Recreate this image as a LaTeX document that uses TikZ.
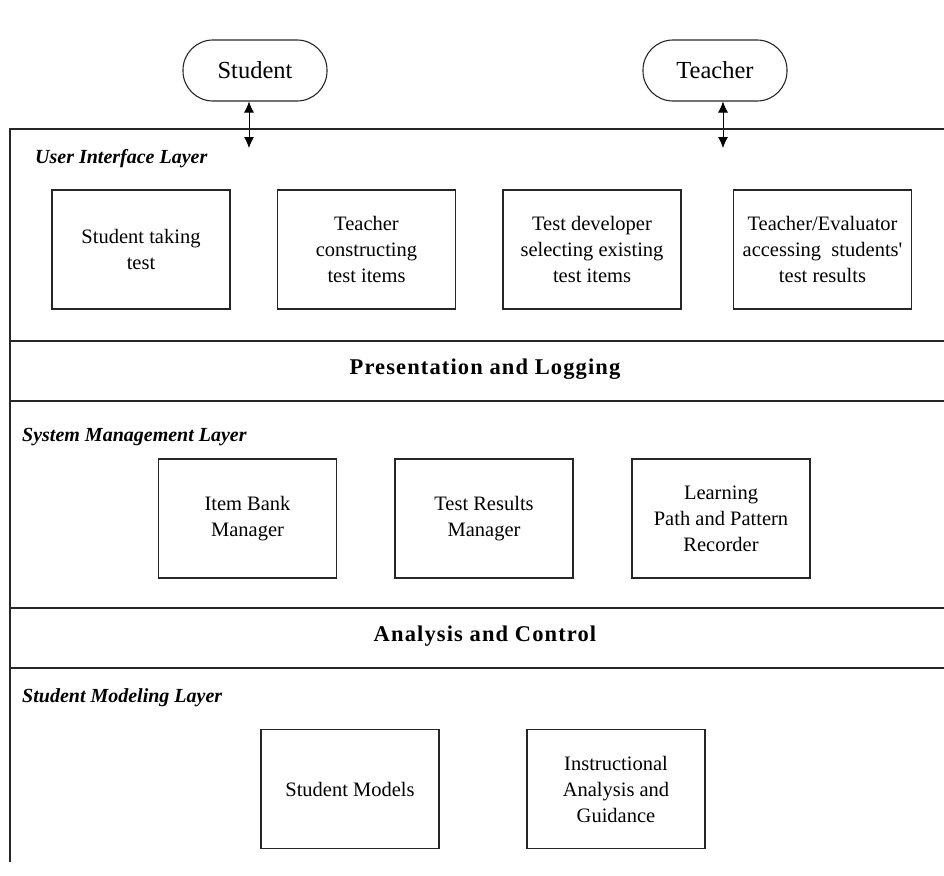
\documentclass[tikz,border=0pt]{standalone}
\usepackage{fontspec}
\setmainfont{Liberation Serif}
\newfontfamily\bandfont[LetterSpace=5]{Liberation Serif}
\newfontfamily\rawserif[Ligatures=TeXOff]{Liberation Serif}
\usetikzlibrary{arrows.meta}
\begin{document}
\begin{tikzpicture}[x=1pt,y=-1pt,
  ln/.style={line width=1.1pt, draw=black!85},
  actor/.style={ln, rounded corners=30pt, minimum width=144pt, minimum height=61pt, inner sep=0pt, font=\fontsize{24.5}{30}\selectfont},
  compbox/.style={ln, minimum width=178pt, minimum height=119pt, inner sep=0pt, align=center, font=\fontsize{20.5}{26}\selectfont},
  layerlabel/.style={anchor=west, inner sep=0pt, font=\bfseries\itshape\fontsize{20}{24}\selectfont},
  bandtitle/.style={inner sep=0pt, font=\bandfont\bfseries\fontsize{22.5}{26}\selectfont},
  biarrow/.style={line width=0.8pt, {Latex[length=11pt,width=10pt]}-{Latex[length=11pt,width=10pt]}}
]
\useasboundingbox (0,0) rectangle (944,875);
% actors
\node[actor] (student) at (255,70.5) {Student};
\node[actor] (teacher) at (715,70.5) {Teacher};
\coordinate (sa) at (249,148);
\coordinate (ta) at (723,148);
\draw[biarrow] (student.south -| sa) -- (sa);
\draw[biarrow] (teacher.south -| ta) -- (ta);
% frame and bands
\draw[ln] (944,129) -- (10,129) -- (10,862);
\draw[ln] (10,341) -- (944,341);
\draw[ln] (10,401) -- (944,401);
\draw[ln] (10,608) -- (944,608);
\draw[ln] (10,668) -- (944,668);
\node[bandtitle] (pl) at (485,369) {Presentation and Logging};
\node[bandtitle] (ac) at (485,636) {Analysis and Control};
% layer labels
\node[layerlabel] (uil) at (35,159) {User Interface Layer};
\node[layerlabel] (sml) at (22,437) {System Management Layer};
\node[layerlabel] (stml) at (22,698) {Student Modeling Layer};
% user interface boxes
\node[compbox] (b1) at (141,249.5) {Student taking\\test};
\node[compbox] (b2) at (366.5,249.5) {Teacher\\constructing\\test items};
\node[compbox] (b3) at (592,249.5) {Test developer\\selecting existing\\test items};
\node[compbox] (b4) at (822.5,249.5) {Teacher/Evaluator\\accessing\ \ students{\rawserif '}\\test results};
% system management boxes
\node[compbox] (m1) at (247.5,518.5) {Item Bank\\Manager};
\node[compbox] (m2) at (484,518.5) {Test Results\\Manager};
\node[compbox] (m3) at (721,518.5) {Learning\\Path and Pattern\\Recorder};
% student modeling boxes
\node[compbox] (s1) at (350,789) {Student Models};
\node[compbox] (s2) at (616,789) {Instructional\\Analysis and\\Guidance};
\end{tikzpicture}
\end{document}
